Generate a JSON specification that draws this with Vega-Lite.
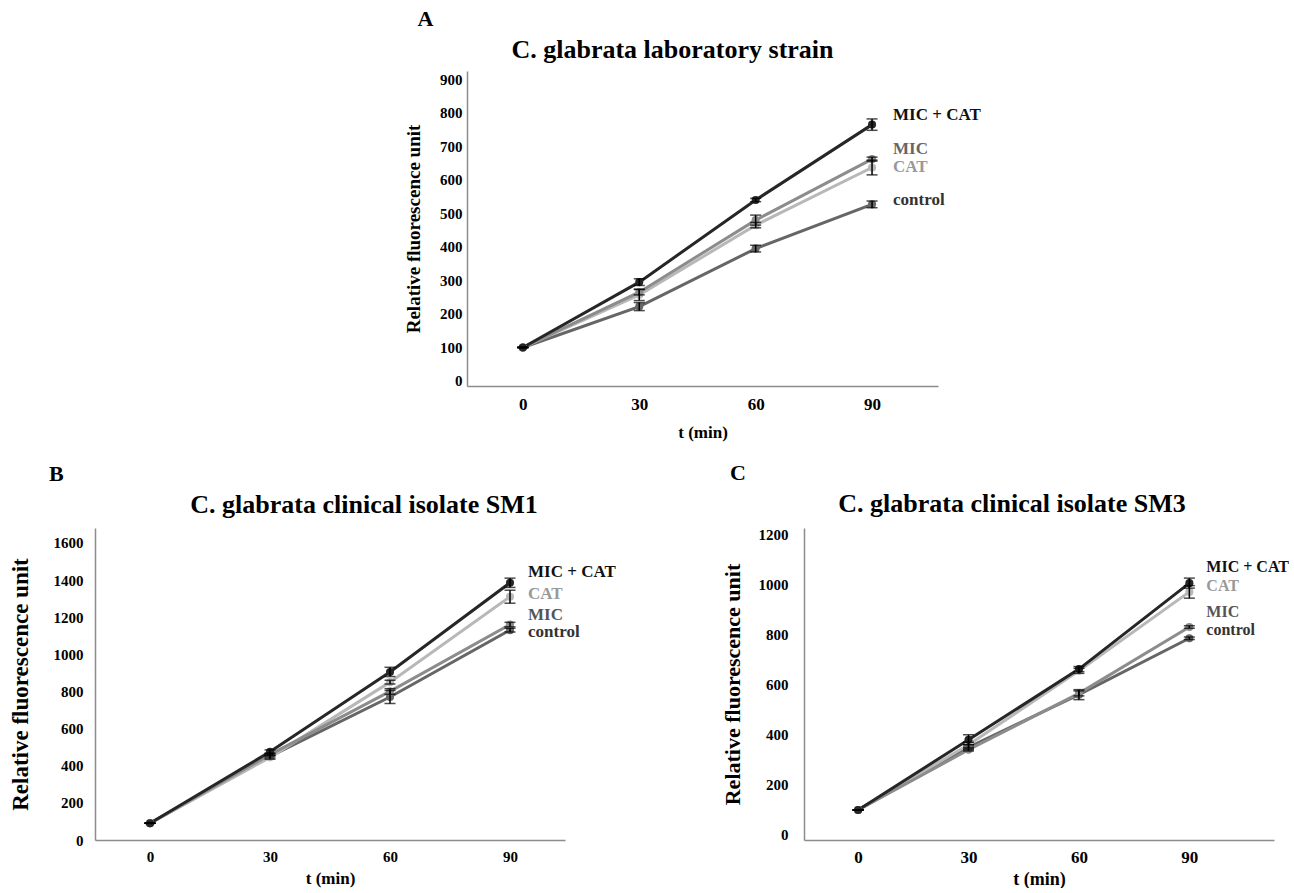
{
  "$schema": "https://vega.github.io/schema/vega-lite/v6.json",
  "padding": {"left": 9, "top": 8, "right": 0, "bottom": 0},
  "background": "white",
  "datasets": {
    "d": [
      {"p": "A", "s": "control", "t": 0, "v": 100, "e": 0},
      {"p": "A", "s": "control", "t": 30, "v": 222, "e": 12},
      {"p": "A", "s": "control", "t": 60, "v": 395, "e": 10},
      {"p": "A", "s": "control", "t": 90, "v": 527, "e": 10},
      {"p": "A", "s": "CAT", "t": 0, "v": 100, "e": 0},
      {"p": "A", "s": "CAT", "t": 30, "v": 257, "e": 17},
      {"p": "A", "s": "CAT", "t": 60, "v": 465, "e": 8},
      {"p": "A", "s": "CAT", "t": 90, "v": 637, "e": 22},
      {"p": "A", "s": "MIC", "t": 0, "v": 100, "e": 0},
      {"p": "A", "s": "MIC", "t": 30, "v": 265, "e": 8},
      {"p": "A", "s": "MIC", "t": 60, "v": 480, "e": 15},
      {"p": "A", "s": "MIC", "t": 90, "v": 662, "e": 6},
      {"p": "A", "s": "MIC + CAT", "t": 0, "v": 100, "e": 0},
      {"p": "A", "s": "MIC + CAT", "t": 30, "v": 295, "e": 10},
      {"p": "A", "s": "MIC + CAT", "t": 60, "v": 540, "e": 5},
      {"p": "A", "s": "MIC + CAT", "t": 90, "v": 765, "e": 17},
      {"p": "B", "s": "control", "t": 0, "v": 90, "e": 0},
      {"p": "B", "s": "control", "t": 30, "v": 450, "e": 8},
      {"p": "B", "s": "control", "t": 60, "v": 770, "e": 35},
      {"p": "B", "s": "control", "t": 90, "v": 1130, "e": 10},
      {"p": "B", "s": "CAT", "t": 0, "v": 90, "e": 0},
      {"p": "B", "s": "CAT", "t": 30, "v": 445, "e": 10},
      {"p": "B", "s": "CAT", "t": 60, "v": 850, "e": 10},
      {"p": "B", "s": "CAT", "t": 90, "v": 1310, "e": 35},
      {"p": "B", "s": "MIC", "t": 0, "v": 90, "e": 0},
      {"p": "B", "s": "MIC", "t": 30, "v": 460, "e": 8},
      {"p": "B", "s": "MIC", "t": 60, "v": 800, "e": 15},
      {"p": "B", "s": "MIC", "t": 90, "v": 1160, "e": 12},
      {"p": "B", "s": "MIC + CAT", "t": 0, "v": 90, "e": 0},
      {"p": "B", "s": "MIC + CAT", "t": 30, "v": 475, "e": 10},
      {"p": "B", "s": "MIC + CAT", "t": 60, "v": 905, "e": 25},
      {"p": "B", "s": "MIC + CAT", "t": 90, "v": 1385, "e": 25},
      {"p": "C", "s": "control", "t": 0, "v": 100, "e": 0},
      {"p": "C", "s": "control", "t": 30, "v": 350, "e": 10},
      {"p": "C", "s": "control", "t": 60, "v": 560, "e": 20},
      {"p": "C", "s": "control", "t": 90, "v": 785, "e": 5},
      {"p": "C", "s": "CAT", "t": 0, "v": 100, "e": 0},
      {"p": "C", "s": "CAT", "t": 30, "v": 360, "e": 10},
      {"p": "C", "s": "CAT", "t": 60, "v": 655, "e": 10},
      {"p": "C", "s": "CAT", "t": 90, "v": 970, "e": 25},
      {"p": "C", "s": "MIC", "t": 0, "v": 100, "e": 0},
      {"p": "C", "s": "MIC", "t": 30, "v": 340, "e": 5},
      {"p": "C", "s": "MIC", "t": 60, "v": 565, "e": 10},
      {"p": "C", "s": "MIC", "t": 90, "v": 830, "e": 5},
      {"p": "C", "s": "MIC + CAT", "t": 0, "v": 100, "e": 0},
      {"p": "C", "s": "MIC + CAT", "t": 30, "v": 380, "e": 20},
      {"p": "C", "s": "MIC + CAT", "t": 60, "v": 662, "e": 10},
      {"p": "C", "s": "MIC + CAT", "t": 90, "v": 1005, "e": 20}
    ]
  },
  "data": {"name": "d"},
  "spacing": 22,
  "vconcat": [
    {
      "spacing": 17,
      "hconcat": [
        {"width": 292, "height": 10, "data": {"values": [{"k": 1}]}, "mark": {"type": "point", "opacity": 0}, "encoding": {}},
        {
          "title": {"text": "A", "anchor": "start", "dx": 13, "fontSize": 22, "offset": 6},
          "vconcat": [
            {
              "width": 471,
              "height": 315,
              "title": {"text": "C. glabrata laboratory strain", "fontSize": 26, "frame": "group", "dx": -30, "offset": 8},
              "transform": [{"filter": "datum.p == 'A'"}],
              "encoding": {
                "x": {"field": "t", "type": "quantitative", "scale": {"domain": [-14.4, 107], "nice": false, "zero": false},
                  "axis": {"values": [0, 30, 60, 90], "format": "d", "title": "t (min)", "labelFontSize": 17, "titleFontSize": 17, "labelPadding": 10, "titlePadding": 12}},
                "y": {"field": "v", "type": "quantitative", "scale": {"domain": [-15, 925], "nice": false, "zero": false},
                  "axis": {"values": [0, 100, 200, 300, 400, 500, 600, 700, 800, 900], "format": "d", "title": "Relative fluorescence unit", "labelFontSize": 15, "titleFontSize": 19, "labelPadding": 5, "titlePadding": 16}}
              },
              "layer": [
                {"mark": {"type": "line", "strokeWidth": 3}, "encoding": {"color": {"field": "s", "type": "nominal", "scale": {"domain": ["MIC + CAT", "MIC", "CAT", "control"], "range": ["#262626", "#8c8c8c", "#b8b8b8", "#666666"]}, "legend": null}}},
                {"mark": {"type": "point", "filled": true, "size": 65, "opacity": 1}, "encoding": {"color": {"field": "s", "type": "nominal", "scale": {"domain": ["MIC + CAT", "MIC", "CAT", "control"], "range": ["#262626", "#8c8c8c", "#b8b8b8", "#666666"]}, "legend": null}}},
                {"mark": {"type": "errorbar", "color": "black", "thickness": 1.5, "ticks": {"size": 11, "thickness": 1.5, "color": "black"}}, "encoding": {"yError": {"field": "e"}}},
                {"transform": [{"filter": "datum.t == 90 && datum.s == 'MIC + CAT'"}], "mark": {"type": "text", "align": "left", "baseline": "middle", "dx": 21, "dy": -10, "fontSize": 17, "fontWeight": "bold", "color": "#111111"}, "encoding": {"text": {"field": "s"}}},
                {"transform": [{"filter": "datum.t == 90 && datum.s == 'MIC'"}], "mark": {"type": "text", "align": "left", "baseline": "middle", "dx": 21, "dy": -10, "fontSize": 17, "fontWeight": "bold", "color": "#666666"}, "encoding": {"text": {"field": "s"}}},
                {"transform": [{"filter": "datum.t == 90 && datum.s == 'CAT'"}], "mark": {"type": "text", "align": "left", "baseline": "middle", "dx": 21, "dy": -1, "fontSize": 17, "fontWeight": "bold", "color": "#999999"}, "encoding": {"text": {"field": "s"}}},
                {"transform": [{"filter": "datum.t == 90 && datum.s == 'control'"}], "mark": {"type": "text", "align": "left", "baseline": "middle", "dx": 21, "dy": -4, "fontSize": 17, "fontWeight": "bold", "color": "#333333"}, "encoding": {"text": {"field": "s"}}}
              ]
            }
          ]
        }
      ]
    },
    {
      "spacing": 105,
      "hconcat": [
        {
          "title": {"text": "B", "anchor": "start", "dx": 40, "fontSize": 22, "offset": 6},
          "vconcat": [
            {
              "width": 470,
              "height": 312,
              "title": {"text": "C. glabrata clinical isolate SM1", "fontSize": 26, "frame": "group", "dx": 34, "offset": 10},
              "transform": [{"filter": "datum.p == 'B'"}],
              "encoding": {
                "x": {"field": "t", "type": "quantitative", "scale": {"domain": [-13.75, 103.75], "nice": false, "zero": false},
                  "axis": {"values": [0, 30, 60, 90], "format": "d", "title": "t (min)", "labelFontSize": 15, "titleFontSize": 17, "labelPadding": 9, "titlePadding": 6}},
                "y": {"field": "v", "type": "quantitative", "scale": {"domain": [0, 1680], "nice": false, "zero": false},
                  "axis": {"values": [0, 200, 400, 600, 800, 1000, 1200, 1400, 1600], "format": "d", "title": "Relative fluorescence unit", "labelFontSize": 15, "titleFontSize": 23, "labelPadding": 12, "titlePadding": 21}}
              },
              "layer": [
                {"mark": {"type": "line", "strokeWidth": 3}, "encoding": {"color": {"field": "s", "type": "nominal", "scale": {"domain": ["MIC + CAT", "MIC", "CAT", "control"], "range": ["#262626", "#8c8c8c", "#b8b8b8", "#666666"]}, "legend": null}}},
                {"mark": {"type": "point", "filled": true, "size": 65, "opacity": 1}, "encoding": {"color": {"field": "s", "type": "nominal", "scale": {"domain": ["MIC + CAT", "MIC", "CAT", "control"], "range": ["#262626", "#8c8c8c", "#b8b8b8", "#666666"]}, "legend": null}}},
                {"mark": {"type": "errorbar", "color": "black", "thickness": 1.5, "ticks": {"size": 11, "thickness": 1.5, "color": "black"}}, "encoding": {"yError": {"field": "e"}}},
                {"transform": [{"filter": "datum.t == 90 && datum.s == 'MIC + CAT'"}], "mark": {"type": "text", "align": "left", "baseline": "middle", "dx": 18, "dy": -11, "fontSize": 17, "fontWeight": "bold", "color": "#111111"}, "encoding": {"text": {"field": "s"}}},
                {"transform": [{"filter": "datum.t == 90 && datum.s == 'CAT'"}], "mark": {"type": "text", "align": "left", "baseline": "middle", "dx": 18, "dy": -3, "fontSize": 17, "fontWeight": "bold", "color": "#999999"}, "encoding": {"text": {"field": "s"}}},
                {"transform": [{"filter": "datum.t == 90 && datum.s == 'MIC'"}], "mark": {"type": "text", "align": "left", "baseline": "middle", "dx": 18, "dy": -10, "fontSize": 17, "fontWeight": "bold", "color": "#555555"}, "encoding": {"text": {"field": "s"}}},
                {"transform": [{"filter": "datum.t == 90 && datum.s == 'control'"}], "mark": {"type": "text", "align": "left", "baseline": "middle", "dx": 18, "dy": 2, "fontSize": 17, "fontWeight": "bold", "color": "#333333"}, "encoding": {"text": {"field": "s"}}}
              ]
            }
          ]
        },
        {
          "title": {"text": "C", "anchor": "start", "dx": 9, "fontSize": 22, "offset": 6},
          "vconcat": [
            {
              "width": 470,
              "height": 312,
              "title": {"text": "C. glabrata clinical isolate SM3", "fontSize": 26, "frame": "group", "dx": -27, "offset": 10},
              "transform": [{"filter": "datum.p == 'C'"}],
              "encoding": {
                "x": {"field": "t", "type": "quantitative", "scale": {"domain": [-14.7, 113], "nice": false, "zero": false},
                  "axis": {"values": [0, 30, 60, 90], "format": "d", "title": "t (min)", "labelFontSize": 17, "titleFontSize": 18, "labelPadding": 9, "titlePadding": 5}},
                "y": {"field": "v", "type": "quantitative", "scale": {"domain": [-20, 1225], "nice": false, "zero": false},
                  "axis": {"values": [0, 200, 400, 600, 800, 1000, 1200], "format": "d", "title": "Relative fluorescence unit", "labelFontSize": 15, "titleFontSize": 22, "labelPadding": 16, "titlePadding": 14}}
              },
              "layer": [
                {"mark": {"type": "line", "strokeWidth": 3}, "encoding": {"color": {"field": "s", "type": "nominal", "scale": {"domain": ["MIC + CAT", "MIC", "CAT", "control"], "range": ["#262626", "#8c8c8c", "#b8b8b8", "#666666"]}, "legend": null}}},
                {"mark": {"type": "point", "filled": true, "size": 65, "opacity": 1}, "encoding": {"color": {"field": "s", "type": "nominal", "scale": {"domain": ["MIC + CAT", "MIC", "CAT", "control"], "range": ["#262626", "#8c8c8c", "#b8b8b8", "#666666"]}, "legend": null}}},
                {"mark": {"type": "errorbar", "color": "black", "thickness": 1.5, "ticks": {"size": 11, "thickness": 1.5, "color": "black"}}, "encoding": {"yError": {"field": "e"}}},
                {"transform": [{"filter": "datum.t == 90 && datum.s == 'MIC + CAT'"}], "mark": {"type": "text", "align": "left", "baseline": "middle", "dx": 17, "dy": -16, "fontSize": 16, "fontWeight": "bold", "color": "#111111"}, "encoding": {"text": {"field": "s"}}},
                {"transform": [{"filter": "datum.t == 90 && datum.s == 'CAT'"}], "mark": {"type": "text", "align": "left", "baseline": "middle", "dx": 17, "dy": -6, "fontSize": 16, "fontWeight": "bold", "color": "#999999"}, "encoding": {"text": {"field": "s"}}},
                {"transform": [{"filter": "datum.t == 90 && datum.s == 'MIC'"}], "mark": {"type": "text", "align": "left", "baseline": "middle", "dx": 17, "dy": -15, "fontSize": 16, "fontWeight": "bold", "color": "#555555"}, "encoding": {"text": {"field": "s"}}},
                {"transform": [{"filter": "datum.t == 90 && datum.s == 'control'"}], "mark": {"type": "text", "align": "left", "baseline": "middle", "dx": 17, "dy": -8, "fontSize": 16, "fontWeight": "bold", "color": "#333333"}, "encoding": {"text": {"field": "s"}}}
              ]
            }
          ]
        }
      ]
    }
  ],
  "config": {
    "font": "Liberation Serif",
    "view": {"stroke": null},
    "axis": {
      "domainColor": "#8c8c8c",
      "domainWidth": 1.5,
      "ticks": false,
      "grid": false,
      "labelFont": "Liberation Serif",
      "labelFontWeight": "bold",
      "labelColor": "#000000",
      "titleFont": "Liberation Serif",
      "titleFontWeight": "bold",
      "titleColor": "#000000"
    },
    "title": {"font": "Liberation Serif", "fontWeight": "bold", "color": "#000000"},
    "text": {"font": "Liberation Serif"}
  }
}
